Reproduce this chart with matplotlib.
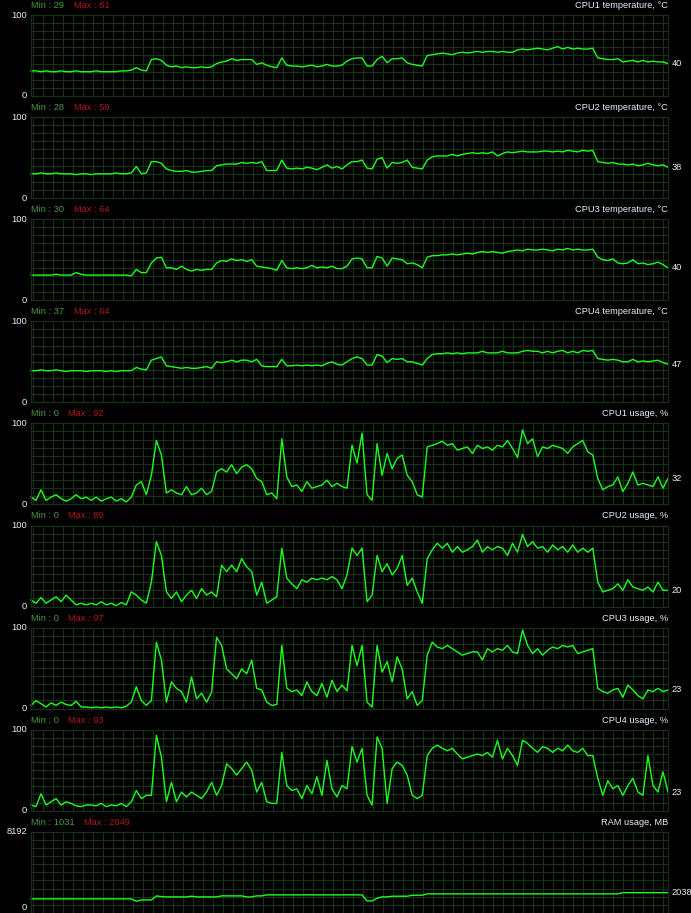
import numpy as np
import matplotlib.pyplot as plt

# Hardware monitor history, one sample every ~5 px of the graph width
cpu1_temp = [31, 31, 30, 31, 30, 30, 31, 30, 30, 31, 30, 30, 30, 31, 30, 30, 30, 30, 31, 31, 32,
             35, 32, 31, 45, 46, 44, 38, 36, 37, 35, 36, 35, 35, 36, 35, 36, 40, 42, 43, 46,
             44, 45, 45, 45, 39, 41, 38, 36, 35, 47, 38, 37, 37, 36, 37, 38, 36, 37, 39, 37,
             37, 38, 43, 46, 47, 47, 37, 37, 45, 49, 41, 46, 46, 47, 41, 39, 38, 37, 50, 51,
             52, 53, 52, 51, 53, 54, 53, 54, 55, 54, 55, 55, 54, 55, 54, 54, 57, 58, 57, 58,
             59, 58, 57, 59, 61, 58, 60, 58, 59, 58, 58, 59, 47, 46, 45, 45, 46, 42, 43, 44,
             42, 44, 42, 43, 42, 42, 40]
cpu2_temp = [30, 30, 31, 30, 30, 31, 30, 30, 30, 29, 30, 30, 29, 30, 30, 30, 30, 31, 30, 30,
             31, 39, 30, 31, 45, 45, 43, 36, 34, 33, 33, 34, 32, 32, 33, 34, 34, 40, 41, 42,
             42, 42, 44, 43, 44, 43, 45, 34, 34, 34, 47, 37, 36, 37, 36, 38, 37, 35, 38, 41,
             37, 39, 36, 41, 45, 45, 47, 37, 36, 48, 50, 37, 44, 43, 44, 47, 38, 37, 36, 47,
             51, 52, 52, 52, 54, 52, 54, 55, 56, 55, 56, 55, 57, 52, 55, 57, 56, 57, 58, 57,
             57, 57, 58, 58, 57, 58, 57, 59, 58, 57, 59, 58, 59, 45, 44, 43, 44, 42, 42, 41,
             42, 40, 41, 43, 41, 40, 41, 38]
cpu3_temp = [31, 31, 31, 31, 31, 32, 31, 31, 31, 34, 32, 31, 31, 31, 31, 31, 31, 31, 31, 31,
             30, 38, 34, 34, 46, 52, 53, 40, 40, 38, 42, 38, 36, 38, 37, 38, 38, 46, 49, 48,
             51, 49, 50, 48, 50, 42, 41, 40, 39, 37, 49, 40, 39, 40, 39, 40, 43, 40, 41, 40,
             42, 39, 39, 42, 51, 52, 51, 40, 40, 54, 52, 42, 52, 51, 50, 45, 46, 44, 40, 53,
             55, 55, 56, 56, 57, 56, 57, 58, 57, 59, 60, 59, 60, 59, 58, 60, 61, 62, 61, 63,
             62, 62, 63, 62, 61, 63, 62, 64, 62, 63, 62, 62, 63, 53, 50, 49, 51, 46, 45, 46,
             50, 45, 46, 44, 45, 47, 44, 40]
cpu4_temp = [39, 39, 40, 39, 39, 40, 39, 38, 39, 39, 39, 38, 39, 39, 39, 38, 39, 38, 39, 39, 39,
             43, 41, 40, 52, 54, 56, 45, 44, 43, 42, 43, 42, 42, 43, 44, 42, 50, 49, 50, 52,
             50, 52, 52, 50, 53, 45, 44, 44, 44, 53, 45, 45, 46, 45, 46, 45, 46, 45, 48, 50,
             47, 46, 50, 54, 56, 54, 46, 46, 59, 57, 49, 54, 53, 54, 50, 50, 48, 46, 54, 59,
             60, 60, 61, 60, 61, 60, 61, 61, 61, 63, 61, 61, 61, 63, 61, 61, 61, 63, 64, 63,
             63, 61, 63, 61, 63, 64, 61, 63, 61, 64, 63, 64, 54, 53, 52, 53, 52, 50, 50, 53,
             50, 51, 50, 51, 52, 49, 47]
cpu1_usage = [9, 5, 18, 5, 9, 12, 7, 4, 7, 12, 7, 9, 5, 9, 4, 7, 9, 4, 7, 3, 9, 24, 28, 12, 36,
              79, 61, 14, 18, 14, 12, 22, 12, 14, 20, 12, 16, 40, 44, 40, 49, 38, 46, 49, 44,
              32, 28, 12, 14, 7, 81, 34, 22, 24, 16, 28, 20, 22, 24, 30, 22, 26, 22, 20,
              73, 51, 88, 12, 5, 75, 36, 63, 44, 57, 61, 36, 28, 12, 9, 71, 73, 75, 78, 73,
              75, 67, 69, 71, 63, 73, 69, 71, 67, 73, 71, 79, 69, 58, 92, 75, 81, 59, 71, 69,
              73, 71, 69, 63, 71, 75, 79, 65, 61, 32, 18, 22, 24, 34, 16, 26, 40, 24, 26, 24,
              22, 34, 20, 32]
cpu2_usage = [8, 4, 11, 4, 8, 12, 6, 14, 8, 2, 4, 2, 4, 2, 6, 2, 4, 1, 5, 2, 18, 14, 8, 4, 30,
              80, 63, 18, 10, 18, 6, 14, 20, 10, 22, 14, 18, 12, 51, 43, 51, 43, 59, 49, 43,
              14, 30, 4, 8, 12, 72, 35, 28, 22, 33, 30, 35, 33, 35, 33, 37, 33, 22, 39,
              72, 63, 72, 6, 14, 63, 43, 53, 39, 47, 63, 26, 35, 18, 4, 59, 70, 78, 72, 78,
              67, 74, 67, 70, 74, 82, 67, 74, 70, 74, 72, 63, 78, 67, 89, 74, 80, 72, 74, 67,
              76, 70, 74, 67, 76, 67, 72, 67, 72, 30, 18, 20, 22, 28, 20, 33, 24, 22, 20, 24,
              18, 30, 20, 20]
cpu3_usage = [4, 10, 6, 2, 7, 4, 8, 5, 4, 9, 2, 2, 1, 2, 1, 2, 1, 2, 1, 3, 8, 27, 10, 4, 10,
              82, 60, 8, 33, 25, 21, 8, 39, 12, 19, 8, 20, 88, 78, 49, 43, 37, 49, 43, 60,
              25, 23, 8, 4, 5, 78, 25, 21, 23, 16, 33, 21, 16, 31, 14, 35, 21, 29, 22,
              78, 53, 78, 8, 2, 78, 45, 58, 33, 64, 49, 12, 21, 4, 10, 66, 82, 76, 74, 78,
              74, 70, 66, 68, 70, 70, 60, 74, 70, 74, 72, 78, 70, 68, 97, 78, 68, 74, 66, 72,
              76, 74, 78, 76, 78, 68, 70, 72, 74, 25, 21, 19, 23, 25, 14, 29, 23, 16, 12, 23,
              21, 25, 21, 23]
cpu4_usage = [7, 5, 21, 7, 11, 15, 7, 11, 9, 6, 5, 7, 7, 6, 9, 5, 7, 6, 9, 5, 11, 25, 15, 19, 19,
              93, 66, 11, 35, 11, 23, 17, 23, 19, 15, 23, 35, 19, 31, 58, 52, 44, 52, 60, 50,
              23, 35, 11, 9, 9, 72, 31, 25, 27, 15, 31, 21, 42, 19, 62, 27, 17, 31, 27,
              79, 60, 77, 19, 7, 91, 77, 9, 52, 60, 56, 44, 19, 15, 19, 68, 77, 81, 77, 74,
              77, 70, 64, 66, 68, 70, 68, 72, 66, 87, 64, 77, 68, 56, 87, 83, 77, 72, 79, 77,
              72, 77, 74, 81, 74, 72, 77, 68, 68, 40, 19, 37, 27, 31, 19, 31, 40, 23, 19, 68,
              31, 23, 48, 23]
ram_usage = [1405, 1405, 1405, 1405, 1405, 1405, 1405, 1405, 1405, 1405, 1405, 1405, 1405, 1405,
             1405, 1405, 1405, 1405, 1405, 1405, 1405, 1170, 1300, 1300, 1300, 1710, 1640, 1608,
             1608, 1608, 1608, 1608, 1676, 1608, 1608, 1608, 1608, 1608, 1710, 1710, 1710, 1710,
             1710, 1608, 1608, 1710, 1710, 1811, 1811, 1811, 1811, 1811, 1811, 1811, 1811, 1811,
             1811, 1811, 1811, 1811, 1811, 1811, 1811, 1811, 1811, 1811, 1811, 1202, 1202, 1473,
             1608, 1608, 1676, 1676, 1676, 1676, 1777, 1777, 1777, 1913, 1913, 1913, 1913, 1913,
             1913, 1913, 1913, 1913, 1913, 1913, 1913, 1913, 1913, 1913, 1913, 1913, 1913, 1913,
             1913, 1913, 1913, 1913, 1913, 1913, 1913, 1913, 1913, 1913, 1913, 1913, 1913, 1913,
             1913, 1913, 1913, 1913, 1913, 1913, 2038, 2038, 2038, 2038, 2038, 2038, 2038, 2038,
             2038, 2038]

titles = ["CPU1 temperature, °C", "CPU2 temperature, °C", "CPU3 temperature, °C",
          "CPU4 temperature, °C", "CPU1 usage, %", "CPU2 usage, %", "CPU3 usage, %",
          "CPU4 usage, %", "RAM usage, MB"]
series = [cpu1_temp, cpu2_temp, cpu3_temp, cpu4_temp,
          cpu1_usage, cpu2_usage, cpu3_usage, cpu4_usage, ram_usage]
min_vals = [29, 28, 30, 37, 0, 0, 0, 0, 1031]
max_vals = [61, 59, 64, 64, 92, 89, 97, 93, 2049]
y_limits = [100, 100, 100, 100, 100, 100, 100, 100, 8192]

# colours of the monitoring window
bg = "#000000"
grid_col = "#133313"
line_col = "#1cff1c"
min_col = "#4b9a40"
max_col = "#b41616"
text_col = "#e6ecf2"
font = "Liberation Sans"
fs = 6.7

W, H = 691, 913
left_px, right_px = 31, 668
top0, step, plot_h = 15, 102.1, 81

fig = plt.figure(figsize=(W / 100, H / 100), dpi=100, facecolor=bg)

for k, (title, vals) in enumerate(zip(titles, series)):
    y_top = top0 + step * k
    ax = fig.add_axes([left_px / W, 1 - (y_top + plot_h) / H,
                       (right_px - left_px) / W, plot_h / H])
    ax.set_facecolor(bg)
    n = len(vals)
    t = np.arange(n)
    ymax = y_limits[k]

    # grid: a line every 10 px across, 10 rows down
    gx = (np.arange(33.3, right_px, 10) - left_px) * (n - 1) / (right_px - left_px)
    ax.set_xticks(gx)
    ax.set_yticks(np.linspace(0, ymax, 11))
    ax.grid(True, color=grid_col, linewidth=0.8)
    ax.tick_params(length=0, labelleft=False, labelbottom=False)
    for sp in ax.spines.values():
        sp.set_color(grid_col)
        sp.set_linewidth(0.8)
    ax.set_xlim(0, n - 1)
    ax.set_ylim(0, ymax)

    ax.plot(t, vals, color=line_col, linewidth=1.0, clip_on=False)

    # header texts
    tmin = ax.annotate(f"Min : {min_vals[k]}", xy=(0, 1), xycoords="axes fraction",
                       xytext=(0, 9.5), textcoords="offset pixels", ha="left", va="center",
                       color=min_col, fontsize=fs, family=font)
    ax.annotate(f"Max : {max_vals[k]}", xy=(1, 0.5), xycoords=tmin,
                xytext=(9.5, 0), textcoords="offset pixels", ha="left", va="center",
                color=max_col, fontsize=fs, family=font)
    ax.annotate(title, xy=(1, 1), xycoords="axes fraction", xytext=(0, 9.5),
                textcoords="offset pixels", ha="right", va="center",
                color=text_col, fontsize=fs, family=font)

    # scale labels (the last panel's zero sits on the window's bottom edge)
    ax.annotate(str(ymax), xy=(0, 1), xycoords="axes fraction", xytext=(-4, 0),
                textcoords="offset pixels", ha="right", va="center",
                color=text_col, fontsize=fs, family=font)
    last = k == len(series) - 1
    ax.annotate("0", xy=(0, 0), xycoords="axes fraction", xytext=(-4, 1 if last else 0),
                textcoords="offset pixels", ha="right",
                va="bottom" if last else "center",
                color=text_col, fontsize=fs, family=font)

    # current value at the right end
    ax.annotate(str(vals[-1]), xy=(n - 1, vals[-1]), xycoords="data", xytext=(4, 0),
                textcoords="offset pixels", ha="left", va="center",
                color=text_col, fontsize=fs, family=font, annotation_clip=False)

fig.savefig("out.png", dpi=100, facecolor=bg)
